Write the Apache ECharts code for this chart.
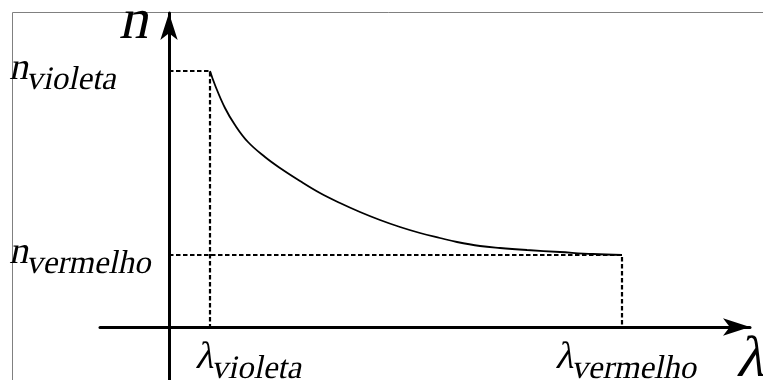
<!DOCTYPE html>
<html>
<head>
<meta charset="utf-8">
<script src="https://cdn.jsdelivr.net/npm/echarts@6/dist/echarts.min.js"></script>
<style>
	html, body { margin: 0; padding: 0; background: #fff; }
	#myChart { width: 763px; height: 380px; }
</style>
</head>
<body>
<div id="myChart"></div>
<script>
	// dispersion curve n(lambda), arbitrary units
	var curveX = [4.1, 4.6, 5.6, 6.6, 7.9, 9.6, 11.1, 13.1, 15.1, 17.1, 19.1, 21.1, 23.1, 25.1, 27.1, 28.8, 31.1, 33.1, 35.8, 39.1, 42.4, 45.3];
	var curveY = [25.6, 24.2, 21.9, 20.2, 18.5, 17.0, 15.9, 14.6, 13.4, 12.4, 11.5, 10.7, 10.0, 9.4, 8.9, 8.5, 8.1, 7.9, 7.7, 7.5, 7.3, 7.2];

	var colorNames = ['violeta', 'vermelho'];
	var lambdaVals = [4.1, 45.3];
	var nVals = [25.6, 7.2];

	var xMin = -6.9, xMax = 58.1;
	var yMin = -5.3, yMax = 31.4;

	// the serif italic face is not installed, so the upright one is slanted
	var serif = 'Liberation Serif';
	var slant = -0.21;

	var curve = [];
	for (var i = 0; i < curveX.length; i++) {
		curve.push([curveX[i], curveY[i]]);
	}

	var richText = {
		m: { fontFamily: serif, fontSize: 38, fill: '#000', lineHeight: 40, verticalAlign: 'top' },
		s: { fontFamily: serif, fontSize: 33, fill: '#000', lineHeight: 33, verticalAlign: 'top', padding: [14, 0, 0, 0] },
		big: { fontFamily: serif, fontSize: 58, fill: '#000', lineHeight: 60 }
	};

	// labels: [x, y] in data units, text, and where the text sits
	var labelData = [];
	var labelInfo = [];
	for (var k = 0; k < colorNames.length; k++) {
		labelData.push([lambdaVals[k], 0]);
		labelInfo.push({ text: '{m|λ}{s|' + colorNames[k] + '}', dx: k === 0 ? -13 : -65, dy: 12, align: 'left', va: 'top', oy: 20 });
		labelData.push([0, nVals[k]]);
		labelInfo.push({ text: '{m|n}{s|' + colorNames[k] + '}', dx: -158, dy: -1, align: 'left', va: 'middle', oy: 0 });
	}
	// axis names
	labelData.push([0, yMax]);
	labelInfo.push({ text: '{big|n}', dx: -18, dy: 10, align: 'right', va: 'middle', oy: 0 });
	labelData.push([xMax, 0]);
	labelInfo.push({ text: '{big|λ}', dx: -11, dy: 4, align: 'left', va: 'top', oy: 30 });

	var series = [{
		type: 'line',
		data: curve,
		smooth: 0.4,
		showSymbol: false,
		lineStyle: { color: '#000', width: 1.8 },
		silent: true
	}];
	for (var j = 0; j < colorNames.length; j++) {
		series.push({
			type: 'line',
			data: [[0, nVals[j]], [lambdaVals[j], nVals[j]], [lambdaVals[j], 0]],
			showSymbol: false,
			lineStyle: { color: '#000', width: 2.2, type: [4.5, 2.5] },
			silent: true
		});
	}
	series.push({
		type: 'custom',
		silent: true,
		clip: false,
		data: labelData,
		renderItem: function(params, api) {
			var info = labelInfo[params.dataIndex];
			var p = api.coord([api.value(0), api.value(1)]);
			return {
				type: 'text',
				x: p[0] + info.dx,
				y: p[1] + info.dy,
				skewX: slant,
				originY: info.oy,
				style: {
					legacy: false,
					text: info.text,
					rich: richText,
					align: info.align,
					verticalAlign: info.va
				}
			};
		}
	});

	var myChart = echarts.init(document.getElementById('myChart'));
	var option = {
		animation: false,
		backgroundColor: '#fff',
		// frame of the cropped figure, only top and left edges are visible
		graphic: [{
			type: 'rect',
			left: 10,
			top: 10,
			silent: true,
			shape: { width: 900, height: 500 },
			style: { fill: 'none', stroke: '#808080', lineWidth: 1 }
		}],
		grid: {
			left: 100, right: 13, top: 13, bottom: 0
		},
		xAxis: {
			type: 'value',
			min: xMin,
			max: xMax,
			axisLine: {
				onZero: true,
				symbol: ['none', 'arrow'],
				symbolSize: [13, 27],
				lineStyle: { color: '#000', width: 3 }
			},
			axisTick: { show: false },
			axisLabel: { show: false },
			splitLine: { show: false }
		},
		yAxis: {
			type: 'value',
			min: yMin,
			max: yMax,
			axisLine: {
				onZero: true,
				symbol: ['none', 'arrow'],
				symbolSize: [13, 27],
				lineStyle: { color: '#000', width: 3 }
			},
			axisTick: { show: false },
			axisLabel: { show: false },
			splitLine: { show: false }
		},
		series: series
	};
	myChart.setOption(option);
</script>
</body>
</html>
